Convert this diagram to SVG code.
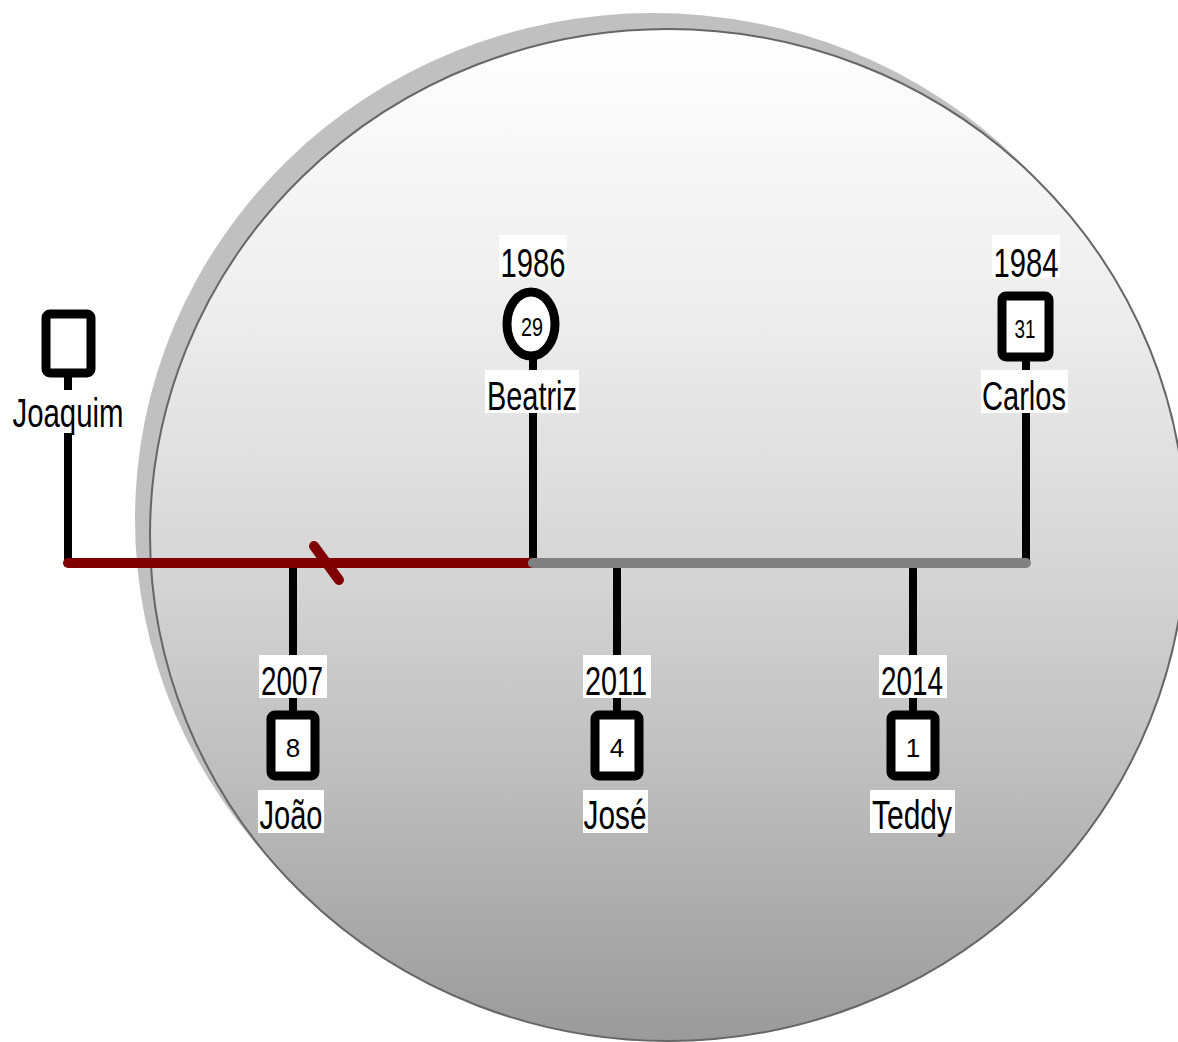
<svg xmlns="http://www.w3.org/2000/svg" width="1178" height="1042" viewBox="0 0 1178 1042">
<style>
.lbl{font-family:"Liberation Sans",Arial,sans-serif;font-size:40px;fill:#000;text-anchor:middle}
.num{font-family:"Liberation Sans",Arial,sans-serif;font-size:26px;fill:#000;text-anchor:middle}
.bg{fill:#fff}
.box{fill:#fff;stroke:#000;stroke-width:9}
.stem{stroke:#000;stroke-width:8;fill:none}
</style>
<defs>
<linearGradient id="g" x1="0" y1="0" x2="0" y2="1">
<stop offset="0" stop-color="#ffffff"/>
<stop offset="0.27" stop-color="#eeeeee"/>
<stop offset="0.53" stop-color="#d6d6d6"/>
<stop offset="0.76" stop-color="#bbbbbb"/>
<stop offset="1" stop-color="#9a9a9a"/>
</linearGradient>
</defs>
<rect width="1178" height="1042" fill="#fff"/>
<g id="background">
<ellipse cx="653" cy="519" rx="518" ry="506" fill="#c0c0c0"/>
<ellipse cx="668" cy="535" rx="518" ry="506" fill="url(#g)" stroke="#666" stroke-width="2"/>
</g>
<g id="connectors">
<line x1="68" y1="377" x2="68" y2="563" class="stem"/>
<line x1="533" y1="358" x2="533" y2="563" class="stem"/>
<line x1="1026" y1="361" x2="1026" y2="563" class="stem"/>
<line x1="293" y1="563" x2="293" y2="712" class="stem"/>
<line x1="617" y1="563" x2="617" y2="712" class="stem"/>
<line x1="913" y1="563" x2="913" y2="712" class="stem"/>
<line x1="68" y1="563" x2="533" y2="563" stroke="#800000" stroke-width="10" stroke-linecap="round"/>
<line x1="533" y1="563" x2="1026" y2="563" stroke="#808080" stroke-width="10" stroke-linecap="round"/>
<line x1="314" y1="546" x2="339" y2="580" stroke="#800000" stroke-width="10" stroke-linecap="round"/>
</g>
<g id="node-joaquim">
<rect x="46" y="314" width="45" height="59" rx="4" class="box"/>
<rect x="10" y="390" width="116" height="43" class="bg"/>
<text x="68" y="427" class="lbl" textLength="111" lengthAdjust="spacingAndGlyphs">Joaquim</text>
</g>
<g id="node-beatriz">
<rect x="499" y="235" width="68" height="43" class="bg"/>
<text x="533" y="277" class="lbl" textLength="65" lengthAdjust="spacingAndGlyphs">1986</text>
<ellipse cx="531" cy="324" rx="24" ry="32" class="box"/>
<text x="532" y="336" class="num" textLength="22" lengthAdjust="spacingAndGlyphs">29</text>
<rect x="485" y="370" width="94" height="43" class="bg"/>
<text x="532" y="410" class="lbl" textLength="90" lengthAdjust="spacingAndGlyphs">Beatriz</text>
</g>
<g id="node-carlos">
<rect x="992" y="235" width="68" height="43" class="bg"/>
<text x="1026" y="277" class="lbl" textLength="65" lengthAdjust="spacingAndGlyphs">1984</text>
<rect x="1002" y="296" width="47" height="61" rx="4" class="box"/>
<text x="1025" y="338" class="num" textLength="21" lengthAdjust="spacingAndGlyphs">31</text>
<rect x="981" y="370" width="87" height="43" class="bg"/>
<text x="1024" y="410" class="lbl" textLength="84" lengthAdjust="spacingAndGlyphs">Carlos</text>
</g>
<g id="node-joao">
<rect x="259" y="655" width="68" height="43" class="bg"/>
<text x="292" y="695" class="lbl" textLength="62" lengthAdjust="spacingAndGlyphs">2007</text>
<rect x="271" y="715" width="44" height="61" rx="4" class="box"/>
<text x="293" y="757" class="num">8</text>
<rect x="258" y="790" width="66" height="43" class="bg"/>
<text x="291" y="829" class="lbl" textLength="63" lengthAdjust="spacingAndGlyphs">João</text>
</g>
<g id="node-jose">
<rect x="583" y="655" width="68" height="43" class="bg"/>
<text x="616" y="695" class="lbl" textLength="62" lengthAdjust="spacingAndGlyphs">2011</text>
<rect x="595" y="715" width="44" height="61" rx="4" class="box"/>
<text x="617" y="757" class="num">4</text>
<rect x="583" y="790" width="65" height="43" class="bg"/>
<text x="615" y="829" class="lbl" textLength="63" lengthAdjust="spacingAndGlyphs">José</text>
</g>
<g id="node-teddy">
<rect x="879" y="655" width="68" height="43" class="bg"/>
<text x="912" y="695" class="lbl" textLength="62" lengthAdjust="spacingAndGlyphs">2014</text>
<rect x="891" y="715" width="44" height="61" rx="4" class="box"/>
<text x="913" y="757" class="num">1</text>
<rect x="870" y="790" width="85" height="43" class="bg"/>
<text x="912" y="829" class="lbl" textLength="80" lengthAdjust="spacingAndGlyphs">Teddy</text>
</g>
</svg>
